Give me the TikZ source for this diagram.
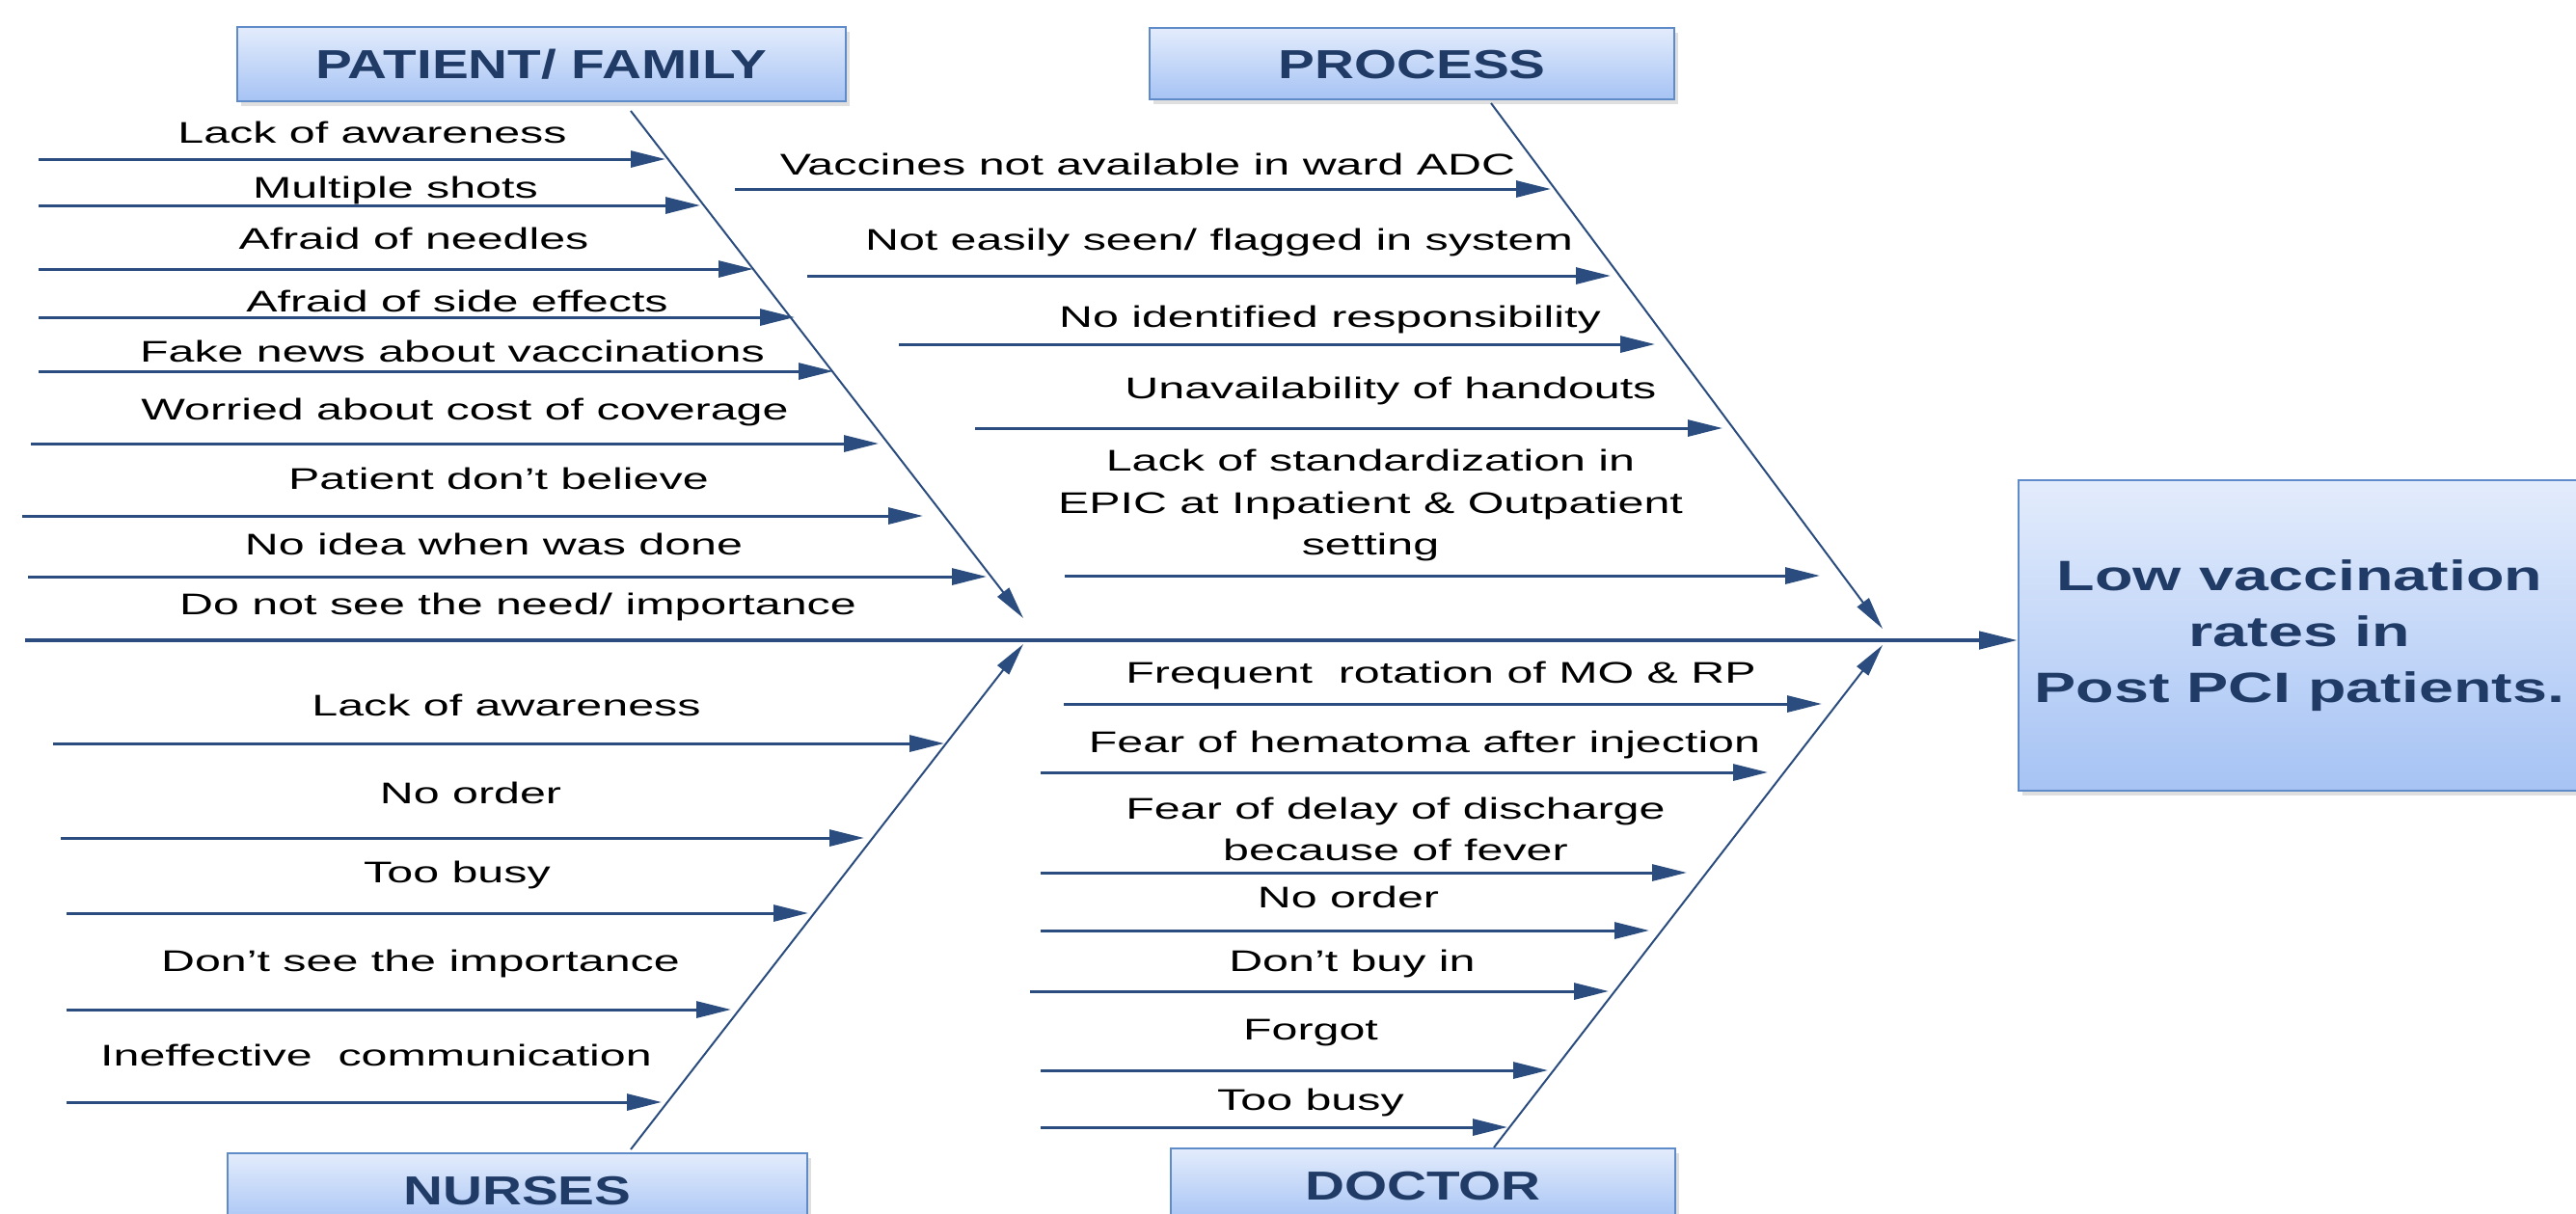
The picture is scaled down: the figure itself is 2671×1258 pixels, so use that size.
\documentclass[tikz,border=0pt]{standalone}
\usepackage{fontspec}
\setmainfont{Liberation Sans}[FakeStretch=1.56]
\newfontfamily\titlef{Liberation Sans}[FakeStretch=1.35]
\newfontfamily\efff{Liberation Sans}[FakeStretch=1.47]
\usetikzlibrary{arrows.meta,shadows,calc}
\definecolor{ln}{HTML}{2B4C7E}
\definecolor{ttl}{HTML}{1F3B66}
\definecolor{bxtop}{HTML}{E3ECFC}
\definecolor{bxbot}{HTML}{A6C3F4}
\definecolor{bxdraw}{HTML}{5F8BC9}
\begin{document}
\begin{tikzpicture}[x=1pt,y=-1pt,
  catbox/.style={draw=bxdraw,line width=2pt,top color=bxtop,bottom color=bxbot,
    drop shadow={shadow xshift=4pt,shadow yshift=-5pt,opacity=0.25},
    text=ttl,font=\titlef\bfseries\fontsize{42}{48}\selectfont,
    text height=30pt,text depth=0pt,inner sep=0pt},
  effbox/.style={draw=bxdraw,line width=2pt,top color=bxtop,bottom color=bxbot,
    drop shadow={shadow xshift=4pt,shadow yshift=-5pt,opacity=0.25},
    text=ttl,font=\efff\bfseries\fontsize{44}{58}\selectfont,align=center,inner sep=0pt},
  branch/.style={draw=ln,line width=3pt,-{Triangle[length=36pt,width=17pt]}},
  bone/.style={draw=ln,line width=2pt,-{Triangle[length=34pt,width=15pt]}},
  spine/.style={draw=ln,line width=4.5pt,-{Triangle[length=40pt,width=18pt]}},
  lbl/.style={font=\fontsize{31}{43.5}\selectfont,inner sep=0pt,text=black}
]
\useasboundingbox (0,0) rectangle (2671,1258);
\fill[white] (0,0) rectangle (2671,1258);

% effect box (right edge runs off the page)
\begin{scope}
\clip (0,0) rectangle (2671,1258);
\node[effbox,minimum width=583pt,minimum height=322pt] (eff) at (2384.5,659)
  {Low vaccination\\rates in\\Post PCI patients.};
% category boxes
\node[catbox,minimum width=631pt,minimum height=77pt] (pf) at (561.5,66.5) {PATIENT/ FAMILY};
\node[catbox,minimum width=544pt,minimum height=74pt] (pr) at (1464,66) {PROCESS};
\node[catbox,minimum width=601pt,minimum height=76pt] (nu) at (536.5,1234) {NURSES};
\node[catbox,minimum width=523pt,minimum height=76pt] (dr) at (1475.5,1229) {DOCTOR};
\end{scope}

% spine
\coordinate (spL) at (26,664);
\draw[spine] (spL) -- (spL -| eff.west);

% bones
\coordinate (pfb) at (654,115);  \coordinate (pfe) at (1061,641);
\coordinate (prb) at (1546,107); \coordinate (pre) at (1952,652);
\coordinate (nub) at (654,1192); \coordinate (nue) at (1061,668);
\coordinate (drb) at (1549,1190);\coordinate (dre) at (1952,669);
\draw[bone] (pfb) -- (pfe);
\draw[bone] (prb) -- (pre);
\draw[bone] (nub) -- (nue);
\draw[bone] (drb) -- (dre);

% single-line branches: name/xstart/xend/y/xtext/ybaseline/text
\foreach \n/\xs/\xe/\y/\xt/\yt/\t in {
  pa1/40/690/165/386/148/{Lack of awareness},
  pa2/40/726/213/410/205/{Multiple shots},
  pa3/40/781/279/429/258/{Afraid of needles},
  pa4/40/824/329/474/323/{Afraid of side effects},
  pa5/40/864/385/469/375/{Fake news about vaccinations},
  pa6/32/911/460/482/435/{Worried about cost of coverage},
  pa7/23/957/535/517/507/{Patient don’t believe},
  pa8/29/1023/598/512/575/{No idea when was done},
  pr1/762/1608/196/1190/181/{Vaccines not available in ward ADC},
  pr2/837/1670/286/1264/259/{Not easily seen/ flagged in system},
  pr3/932/1716/357/1379/339/{No identified responsibility},
  pr4/1011/1786/444/1442/413/{Unavailability of handouts},
  dr1/1103/1889/730/1494/708/{Frequent~ rotation of MO \& RP},
  dr2/1079/1833/801/1477/780/{Fear of hematoma after injection},
  dr4/1079/1710/965/1398/941/{No order},
  dr5/1068/1668/1028/1402/1007/{Don’t buy in},
  dr6/1079/1605/1110/1359/1078/{Forgot},
  dr7/1079/1563/1169/1359/1151/{Too busy},
  nu1/55/979/771/525/742/{Lack of awareness},
  nu2/63/896/869/488/833/{No order},
  nu3/69/838/947/474/915/{Too busy},
  nu4/69/758/1047/436/1007/{Don’t see the importance},
  nu5/69/686/1143/390/1105/{Ineffective~ communication}}{
  \coordinate (\n s) at (\xs,\y);
  \coordinate (\n e) at (\xe,\y);
  \draw[branch] (\n s) -- (\n e);
  \node[lbl,anchor=base] (\n) at (\xt,\yt) {\t};
}

% label sitting on the spine
\node[lbl,anchor=base] (pa9) at (537,637) {Do not see the need/ importance};

% multi-line branches
\coordinate (pr5s) at (1104,597); \coordinate (pr5e) at (1887,597);
\draw[branch] (pr5s) -- (pr5e);
\node[lbl,align=center] (pr5) at (1421,524)
  {Lack of standardization in\\EPIC at Inpatient \& Outpatient\\setting};
\coordinate (dr3s) at (1079,905); \coordinate (dr3e) at (1749,905);
\draw[branch] (dr3s) -- (dr3e);
\node[lbl,align=center] (dr3) at (1447,860)
  {Fear of delay of discharge\\because of fever};
\end{tikzpicture}
\end{document}
